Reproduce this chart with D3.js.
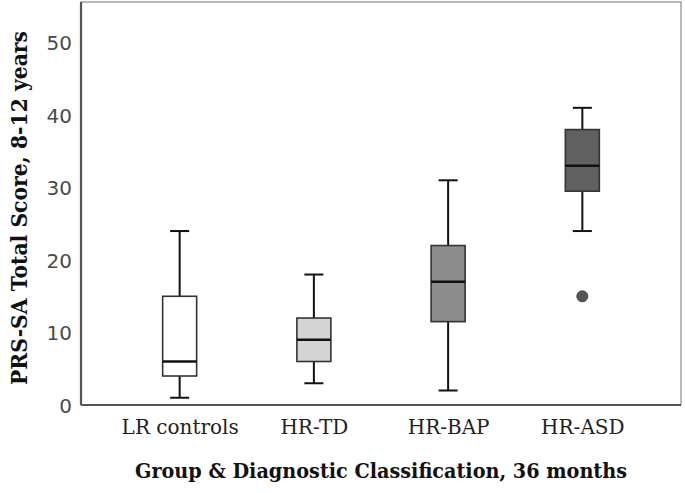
<!DOCTYPE html>
<html><head><meta charset="utf-8">
<script src="https://cdn.jsdelivr.net/npm/d3@7"></script>
<style>body{margin:0;background:#fff}</style>
</head><body>
<svg id="chart" width="685" height="493"></svg>
<script>
const categories = ["LR controls", "HR-TD", "HR-BAP", "HR-ASD"];
const whiskerLow  = [1, 3, 2, 24];
const q1Values    = [4, 6, 11.5, 29.5];
const medians     = [6, 9, 17, 33];
const q3Values    = [15, 12, 22, 38];
const whiskerHigh = [24, 18, 31, 41];
const outliers    = [{cat: "HR-ASD", value: 15}];
const fills       = ["#ffffff", "#d4d4d4", "#8d8d8d", "#606060"];
const yTicks      = [0, 10, 20, 30, 40, 50];

const svg = d3.select("#chart");
const L = 81, R = 681, T = 2, B = 405;
const x = d3.scalePoint().domain(categories).range([L, R]).padding(0.735);
const y = d3.scaleLinear().domain([0, 55.6]).range([B, T]);
const boxW = 34, capW = 19;
const serif = "'DejaVu Serif', 'Liberation Serif', serif";

// frame
svg.append("rect").attr("x", L).attr("y", T).attr("width", R - L).attr("height", B - T)
  .attr("fill", "none").attr("stroke", "#8a8a8a").attr("stroke-width", 1.2);
svg.append("line").attr("x1", L).attr("x2", L).attr("y1", T).attr("y2", B)
  .attr("stroke", "#555").attr("stroke-width", 2.2);
svg.append("line").attr("x1", L).attr("x2", R).attr("y1", B).attr("y2", B)
  .attr("stroke", "#555").attr("stroke-width", 2.2);

// y axis labels
const yAxis = d3.axisLeft(y).tickValues(yTicks).tickSize(0).tickPadding(9);
const gy = svg.append("g").attr("transform", `translate(${L},0)`).call(yAxis);
gy.select(".domain").remove();
gy.selectAll("text").attr("font-family", "'DejaVu Sans', sans-serif").attr("font-size", 20)
  .attr("fill", "#4a4a4a").attr("dy", "0.36em");

// x axis labels
const xAxis = d3.axisBottom(x).tickSize(0).tickPadding(15);
const gx = svg.append("g").attr("transform", `translate(0,${B})`).call(xAxis);
gx.select(".domain").remove();
gx.selectAll("text").attr("font-family", serif)
  .attr("font-size", 20).attr("fill", "#222");

// boxes
const data = categories.map((c, i) => ({c, lo: whiskerLow[i], q1: q1Values[i], med: medians[i],
  q3: q3Values[i], hi: whiskerHigh[i], fill: fills[i]}));
const g = svg.append("g").selectAll("g").data(data).join("g");
g.append("line").attr("x1", d => x(d.c)).attr("x2", d => x(d.c))
  .attr("y1", d => y(d.hi)).attr("y2", d => y(d.q3)).attr("stroke", "#111").attr("stroke-width", 2);
g.append("line").attr("x1", d => x(d.c)).attr("x2", d => x(d.c))
  .attr("y1", d => y(d.q1)).attr("y2", d => y(d.lo)).attr("stroke", "#111").attr("stroke-width", 2);
g.append("line").attr("x1", d => x(d.c) - capW / 2).attr("x2", d => x(d.c) + capW / 2)
  .attr("y1", d => y(d.hi)).attr("y2", d => y(d.hi)).attr("stroke", "#111").attr("stroke-width", 2);
g.append("line").attr("x1", d => x(d.c) - capW / 2).attr("x2", d => x(d.c) + capW / 2)
  .attr("y1", d => y(d.lo)).attr("y2", d => y(d.lo)).attr("stroke", "#111").attr("stroke-width", 2);
g.append("rect").attr("x", d => x(d.c) - boxW / 2).attr("width", boxW)
  .attr("y", d => y(d.q3)).attr("height", d => y(d.q1) - y(d.q3))
  .attr("fill", d => d.fill).attr("stroke", "#333").attr("stroke-width", 1.6);
g.append("line").attr("x1", d => x(d.c) - boxW / 2).attr("x2", d => x(d.c) + boxW / 2)
  .attr("y1", d => y(d.med)).attr("y2", d => y(d.med)).attr("stroke", "#111").attr("stroke-width", 2.5);

// outliers
svg.append("g").selectAll("circle").data(outliers).join("circle")
  .attr("cx", d => x(d.cat)).attr("cy", d => y(d.value)).attr("r", 5.5)
  .attr("fill", "#555").attr("stroke", "#444").attr("stroke-width", 1);

// titles
svg.append("text").attr("transform", `translate(27,208) rotate(-90)`)
  .attr("text-anchor", "middle").attr("font-family", serif)
  .attr("font-weight", "bold").attr("font-size", 22).attr("fill", "#111")
  .attr("textLength", 354).attr("lengthAdjust", "spacingAndGlyphs")
  .text("PRS-SA Total Score, 8-12 years");
svg.append("text").attr("x", 381).attr("y", 478)
  .attr("text-anchor", "middle").attr("font-family", serif)
  .attr("font-weight", "bold").attr("font-size", 21).attr("fill", "#111")
  .attr("textLength", 492).attr("lengthAdjust", "spacingAndGlyphs")
  .text("Group & Diagnostic Classification, 36 months");
</script>
</body></html>
